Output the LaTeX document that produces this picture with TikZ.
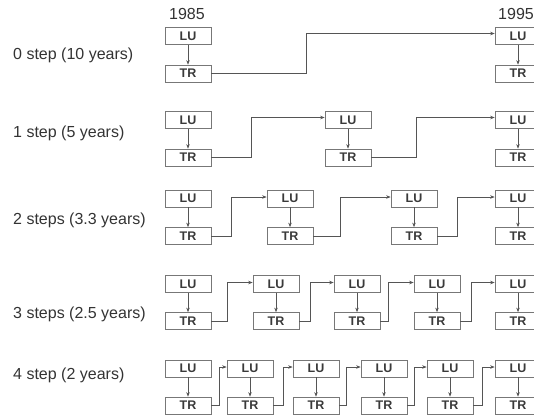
\documentclass[tikz,border=0pt]{standalone}
\usepackage{fontspec}
\setmainfont{Liberation Sans}
\usetikzlibrary{arrows.meta,calc}
\definecolor{ink}{HTML}{333333}
\definecolor{boxink}{HTML}{3A3A3A}
\definecolor{lineg}{HTML}{555555}
\definecolor{boxg}{HTML}{777777}
\tikzset{
  box/.style={draw=boxg, line width=0.7pt, minimum width=46pt, minimum height=17pt,
    inner sep=0pt, text=boxink, font=\bfseries\fontsize{12.5}{12.5}\selectfont},
  arr/.style={draw=lineg, line width=0.6pt, -{Stealth[length=4.5pt,width=3.5pt]}},
  conn/.style={draw=lineg, line width=0.6pt, -{Stealth[length=4.5pt,width=3.5pt]}},
  lab/.style={anchor=west, text=ink, inner sep=0pt, font=\fontsize{16}{16}\selectfont},
  yr/.style={text=ink, inner sep=0pt, font=\fontsize{16}{16}\selectfont}
}
\begin{document}
\begin{tikzpicture}[x=1pt,y=-1pt]
\useasboundingbox (0,0) rectangle (534,416);
\begin{scope}
\clip (0,0) rectangle (534,416);
% labels
\node[lab] (r0) at (13,55) {0 step (10 years)};
\node[lab] (r1) at (13,133) {1 step (5 years)};
\node[lab] (r2) at (13,220) {2 steps (3.3 years)};
\node[lab] (r3) at (13,314) {3 steps (2.5 years)};
\node[lab] (r4) at (13,375) {4 step (2 years)};
\node[yr] (y85) at (187,14) {1985};
\node[yr, anchor=west] (y95) at (498,14) {1995};
% row 0
\foreach \x [count=\i] in {165,495} {
  \node[box] (La\i) at (\x+23,36) {LU};
  \node[box] (Ta\i) at (\x+23,73.5) {TR};
  \draw[arr] (La\i) -- (Ta\i);
}
\coordinate (va1) at (306,0);
\draw[conn] (Ta1.east) -- (Ta1.east -| va1) |- ([yshift=2.5pt]La2.west);
% row 1
\foreach \x [count=\i] in {165,325,495} {
  \node[box] (Lb\i) at (\x+23,120) {LU};
  \node[box] (Tb\i) at (\x+23,157.5) {TR};
  \draw[arr] (Lb\i) -- (Tb\i);
}
\foreach \v [count=\i] in {251,416} {
  \pgfmathtruncatemacro{\j}{\i+1}
  \coordinate (vb\i) at (\v,0);
  \draw[conn] (Tb\i.east) -- (Tb\i.east -| vb\i) |- ([yshift=2.5pt]Lb\j.west);
}
% row 2
\foreach \x [count=\i] in {165,267,391,495} {
  \node[box] (Lc\i) at (\x+23,198.5) {LU};
  \node[box] (Tc\i) at (\x+23,236) {TR};
  \draw[arr] (Lc\i) -- (Tc\i);
}
\foreach \v [count=\i] in {231,340,457} {
  \pgfmathtruncatemacro{\j}{\i+1}
  \coordinate (vc\i) at (\v,0);
  \draw[conn] (Tc\i.east) -- (Tc\i.east -| vc\i) |- ([yshift=1.5pt]Lc\j.west);
}
% row 3
\foreach \x [count=\i] in {165,253,334,414,495} {
  \node[box] (Ld\i) at (\x+23,284) {LU};
  \node[box] (Td\i) at (\x+23,321) {TR};
  \draw[arr] (Ld\i) -- (Td\i);
}
\foreach \v [count=\i] in {227,310,388,471} {
  \pgfmathtruncatemacro{\j}{\i+1}
  \coordinate (vd\i) at (\v,0);
  \draw[conn] (Td\i.east) -- (Td\i.east -| vd\i) |- ([yshift=1.5pt]Ld\j.west);
}
% row 4
\foreach \x [count=\i] in {165,227,293,361,427,495} {
  \node[box] (Le\i) at (\x+23,368.5) {LU};
  \node[box] (Te\i) at (\x+23,405.5) {TR};
  \draw[arr] (Le\i) -- (Te\i);
}
\foreach \v [count=\i] in {219,283,346,414,482} {
  \pgfmathtruncatemacro{\j}{\i+1}
  \coordinate (ve\i) at (\v,0);
  \draw[conn] (Te\i.east) -- (Te\i.east -| ve\i) |- ([yshift=1.5pt]Le\j.west);
}
\end{scope}
\end{tikzpicture}
\end{document}
